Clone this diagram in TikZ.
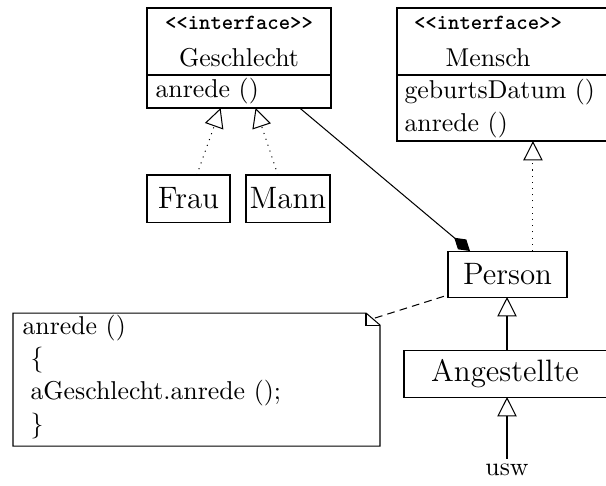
\documentclass[tikz,border=0pt]{standalone}
\usetikzlibrary{arrows.meta,fit,calc}
\begin{document}
\begin{tikzpicture}[x=0.3876pt,y=-0.3876pt,
  box/.style={draw, inner sep=0pt, outer sep=0pt, fit={#1}},
  lbl/.style={inner sep=0pt, font=\large},
  txt/.style={inner sep=0pt},
  stereo/.style={inner sep=0pt, font=\fontsize{8.4}{10}\selectfont\ttfamily\bfseries},
  realize/.style={dotted, -{Triangle[open, length=7.5pt, width=7.5pt]}},
  inherit/.style={-{Triangle[open, length=7.5pt, width=7.5pt]}},
  compose/.style={-{Diamond[length=8pt, width=5pt]}},
  notelink/.style={dash pattern=on 3pt off 2pt}]
\useasboundingbox (0,0) rectangle (606,485);

% Geschlecht
\node[box={(147,8)(331,108)}] (gesch) {};
\node[stereo] (gst) at (239,23) {<<interface>>};
\node[txt] (gname) at (239,58) {Geschlecht};
\draw (147,75) -- (331,75);
\node[txt, anchor=west] (gop) at (155,91) {anrede ()};

% Mensch
\node[box={(397,8)(608,141)}] (mensch) {};
\node[stereo] (mst) at (488,23) {<<interface>>};
\node[txt] (mname) at (488,58) {Mensch};
\draw (397,75) -- (608,75);
\node[txt, anchor=west] (mop1) at (404,92) {geburtsDatum ()};
\node[txt, anchor=west] (mop2) at (404,125) {anrede ()};

% Frau, Mann
\node[box={(147,175)(230,222)}] (frau) {};
\node[lbl] at (frau.center) {Frau};
\node[box={(246,175)(330,222)}] (mann) {};
\node[lbl] at (mann.center) {Mann};

% Person, Angestellte
\node[box={(448,251)(567,297)}] (person) {};
\node[lbl] at (person.center) {Person};
\node[box={(404,350)(608,397)}] (ang) {};
\node[lbl] at (505,373.5) {Angestellte};
\node[txt] (usw) at (507,470) {usw};

% Note
\node[inner sep=0pt, outer sep=0pt, fit={(13,313)(380,446)}] (note) {};
\draw (note.north west) -- ($(note.north east)+(-14,0)$) -- ($(note.north east)+(0,12)$)
      -- (note.south east) -- (note.south west) -- cycle;
\draw ($(note.north east)+(-14,0)$) -- ($(note.north east)+(-14,12)$) -- ($(note.north east)+(0,12)$);
\node[txt, anchor=west] (n1) at (22,328) {anrede ()};
\node[txt, anchor=west] (n2) at (30,360) {\{};
\node[txt, anchor=west] (n3) at (30,393) {aGeschlecht.anrede ();};
\node[txt, anchor=west] (n4) at (30,426) {\}};

% Connectors
\coordinate (fA) at ($(frau.north west)!0.6!(frau.north east)$);
\coordinate (fB) at ($(gesch.south west)!0.4!(gesch.south east)$);
\coordinate (mA) at ($(mann.north west)!0.38!(mann.north east)$);
\coordinate (mB) at ($(gesch.south west)!0.59!(gesch.south east)$);
\coordinate (pA) at ($(person.north west)!0.714!(person.north east)$);
\coordinate (cA) at ($(gesch.south west)!0.83!(gesch.south east)$);
\coordinate (cB) at ($(person.north west)!0.185!(person.north east)$);
\coordinate (uA) at ($(usw.north)+(0,-5)$);
\coordinate (dA) at ($(note.north east)+(-5,5)$);
\coordinate (dB) at ($(person.south west)+(0,-2)$);
\draw[realize] (fA) -- (fB);
\draw[realize] (mA) -- (mB);
\draw[realize] (pA) -- (pA |- mensch.south);
\draw[compose] (cA) -- (cB);
\draw[inherit] (ang.north -| usw) -- (person.south -| usw);
\draw[inherit] (uA) -- (ang.south -| usw);
\draw[notelink] (dA) -- (dB);
\end{tikzpicture}
\end{document}
